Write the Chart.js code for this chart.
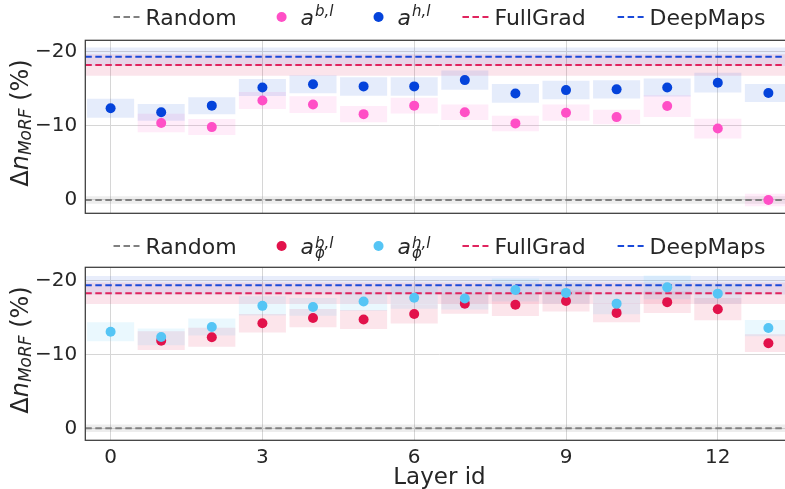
<!DOCTYPE html>
<html lang="en">
<head>
<meta charset="UTF-8">
<title>Layer-wise MoRF drop</title>
<script src="https://cdnjs.cloudflare.com/ajax/libs/Chart.js/4.4.0/chart.umd.min.js"></script>
<style>
    html, body { margin: 0; padding: 0; background: #fff; overflow: hidden; width: 785px; height: 489px; }
    .panel { position: absolute; left: 0; }
</style>
</head>
<body>
<canvas id="topChart" class="panel" width="800" height="225" style="top:0"></canvas>
<canvas id="bottomChart" class="panel" width="800" height="267" style="top:225px"></canvas>
<script>
    const FONT = '"DejaVu Sans", sans-serif';
    const TEXT = '#262626';
    const GRID = '#d6d6d6';

    // x categories and ticks
    const layerIds = [0, 1, 2, 3, 4, 5, 6, 7, 8, 9, 10, 11, 12, 13];
    const xTicks = [0, 3, 6, 9, 12];
    const yTicks = [-20, -10, 0];

    // top panel: a^{b,l} (pink) and a^{h,l} (blue), mean / std per layer
    const abMean = [null, -10.4, -9.85, -13.45, -12.9, -11.6, -12.75, -11.85, -10.35, -11.8, -11.2, -12.7, -9.65, 0];
    const abStd  = [null, 1.25, 1.08, 1.15, 1.13, 1.1, 1.07, 1.05, 1.05, 1.1, 0.98, 1.47, 1.33, 0.85];
    const ahMean = [-12.4, -11.85, -12.75, -15.2, -15.65, -15.35, -15.35, -16.2, -14.4, -14.85, -14.95, -15.2, -15.85, -14.45];
    const ahStd  = [1.28, 1.13, 1.15, 1.15, 1.22, 1.25, 1.25, 1.3, 1.27, 1.25, 1.22, 1.22, 1.33, 1.22];

    // bottom panel: a_phi^{b,l} (crimson) and a_phi^{h,l} (light blue)
    const apbMean = [null, -11.85, -12.3, -14.2, -14.9, -14.7, -15.45, -16.85, -16.7, -17.2, -15.6, -17.05, -16.1, -11.5];
    const apbStd  = [null, 1.28, 1.28, 1.25, 1.23, 1.28, 1.3, 1.38, 1.52, 1.43, 1.28, 1.45, 1.5, 1.2];
    const aphMean = [-13.05, -12.35, -13.7, -16.55, -16.4, -17.15, -17.65, -17.55, -18.7, -18.3, -16.85, -19.05, -18.2, -13.55];
    const aphStd  = [1.28, 1.13, 1.15, 1.3, 1.2, 1.25, 1.5, 1.5, 1.55, 1.45, 1.43, 1.6, 1.38, 1.1];

    // reference methods, same in both panels
    const baseNames = ['Random', 'FullGrad', 'DeepMaps'];
    const baseMean = [0, -18.25, -19.35];
    const baseStd = [0.5, 1.45, 1.25];

    const COL = {
        ab: '#ff4fc6', ah: '#0443db', apb: '#e2124b', aph: '#55c5f5',
        random: '#808080', fullgrad: '#e0245e', deepmaps: '#1a4ad9'
    };

    function rgba(hex, a) {
        const n = parseInt(hex.slice(1), 16);
        return `rgba(${n >> 16},${(n >> 8) & 255},${n & 255},${a})`;
    }

    const X_MIN = -0.5, X_MAX = 13.5;

    function baselineDatasets() {
        const cols = [COL.random, COL.fullgrad, COL.deepmaps];
        const bandAlpha = [0.14, 0.12, 0.1];
        const out = [];
        baseNames.forEach((name, k) => {
            const m = baseMean[k], s = baseStd[k];
            out.push({
                type: 'line', data: [{x: X_MIN, y: m - s}, {x: X_MAX, y: m - s}],
                fill: {value: m + s}, backgroundColor: rgba(cols[k], bandAlpha[k]),
                borderWidth: 0, pointRadius: 0, order: 4
            });
            out.push({
                type: 'line', label: name, data: [{x: X_MIN, y: m}, {x: X_MAX, y: m}],
                borderColor: cols[k], borderWidth: 2, borderDash: [6.5, 3.5],
                pointRadius: 0, fill: false, order: 2
            });
        });
        return out;
    }

    function seriesDatasets(mean, std, color, boxAlpha) {
        const pts = layerIds.filter((_, i) => mean[i] !== null);
        return [
            {
                type: 'bar',
                data: pts.map(x => ({x, y: [mean[x] - std[x], mean[x] + std[x]]})),
                backgroundColor: rgba(color, boxAlpha), borderWidth: 0,
                grouped: false, barPercentage: 0.93, categoryPercentage: 1, order: 3
            },
            {
                type: 'scatter',
                data: pts.map(x => ({x, y: mean[x]})),
                backgroundColor: color, pointRadius: 5, pointBorderWidth: 0, order: 1
            }
        ];
    }

    function scaleConfig(showX, yMin, yMax, xHeight) {
        return {
            x: {
                type: 'linear', min: X_MIN, max: X_MAX, offset: false,
                grid: {color: GRID, lineWidth: 1, drawTicks: false, offset: false},
                border: {display: false},
                afterBuildTicks: s => { s.ticks = xTicks.map(v => ({value: v})); },
                ticks: {display: showX, font: {family: FONT, size: 20}, color: TEXT, padding: 5, maxRotation: 0},
                title: {display: showX, text: 'Layer id', font: {family: FONT, size: 23}, color: TEXT, padding: 0},
                afterFit: s => { s.height = xHeight; s.paddingLeft = s.paddingRight = 0; }
            },
            y: {
                type: 'linear', reverse: true, min: yMin, max: yMax,
                grid: {color: GRID, lineWidth: 1, drawTicks: false},
                border: {display: false},
                afterBuildTicks: s => { s.ticks = yTicks.map(v => ({value: v})); },
                ticks: {
                    font: {family: FONT, size: 20}, color: TEXT, padding: 8,
                    callback: v => v < 0 ? '\u2212' + Math.abs(v) : String(v)
                },
                afterFit: s => { s.width = 85.3; s.paddingTop = s.paddingBottom = 0; }
            }
        };
    }

    // frame around the plot area
    const framePlugin = {
        id: 'frame',
        afterDraw(chart) {
            const {ctx, chartArea: a} = chart;
            ctx.save();
            ctx.strokeStyle = '#3a3a3a';
            ctx.lineWidth = 1.25;
            ctx.strokeRect(a.left, a.top, a.right - a.left, a.bottom - a.top);
            ctx.restore();
        }
    };

    function labelWidth(ctx, lab, size) {
        if (lab.text) {
            ctx.font = `${size}px ${FONT}`;
            return ctx.measureText(lab.text).width;
        }
        ctx.font = `italic ${size}px ${FONT}`;
        const w = ctx.measureText(lab.base).width;
        ctx.font = `italic ${Math.round(size * 0.7)}px ${FONT}`;
        const ws = lab.sup ? ctx.measureText(lab.sup).width : 0;
        const wb = lab.sub ? ctx.measureText(lab.sub).width : 0;
        return w + 1 + Math.max(ws, wb);
    }

    function drawLabel(ctx, lab, x, y, size) {
        ctx.fillStyle = TEXT;
        ctx.textAlign = 'left';
        ctx.textBaseline = 'alphabetic';
        if (lab.text) {
            ctx.font = `${size}px ${FONT}`;
            ctx.fillText(lab.text, x, y);
            return;
        }
        ctx.font = `italic ${size}px ${FONT}`;
        ctx.fillText(lab.base, x, y);
        const w = ctx.measureText(lab.base).width + 1;
        ctx.font = `italic ${Math.round(size * 0.7)}px ${FONT}`;
        if (lab.sup) ctx.fillText(lab.sup, x + w, y - (lab.sub ? 6.5 : 9));
        if (lab.sub) ctx.fillText(lab.sub, x + w, y + 4);
    }

    function legendPlugin(items, baseline) {
        return {
            id: 'mathLegend',
            afterDraw(chart) {
                const ctx = chart.ctx, a = chart.chartArea;
                const HANDLE = 26, PAD = 6, GAP = 32, SIZE = 22;
                ctx.save();
                const widths = items.map(it => labelWidth(ctx, it.label, SIZE));
                const total = widths.reduce((s, w) => s + w, 0) + items.length * (HANDLE + PAD) + (items.length - 1) * GAP;
                let x = (a.left + a.right) / 2 - total / 2;
                const my = baseline - 8;
                items.forEach((it, k) => {
                    if (it.kind === 'line') {
                        ctx.strokeStyle = it.color;
                        ctx.lineWidth = 2;
                        ctx.setLineDash([6.5, 3.5]);
                        ctx.beginPath();
                        ctx.moveTo(x, my);
                        ctx.lineTo(x + HANDLE, my);
                        ctx.stroke();
                        ctx.setLineDash([]);
                    } else {
                        ctx.fillStyle = it.color;
                        ctx.beginPath();
                        ctx.arc(x + HANDLE / 2, my, 5, 0, Math.PI * 2);
                        ctx.fill();
                    }
                    x += HANDLE + PAD;
                    drawLabel(ctx, it.label, x, baseline, SIZE);
                    x += widths[k] + GAP;
                });
                ctx.restore();
            }
        };
    }

    // rotated y title: Δn_{MoRF} (%)
    function yTitlePlugin(bx, cy) {
        return {
            id: 'yTitle',
            afterDraw(chart) {
                const ctx = chart.ctx;
                const big = 24, small = 17;
                const segs = [
                    {t: '\u0394', f: `${big}px ${FONT}`, dy: 0},
                    {t: 'n', f: `italic ${big}px ${FONT}`, dy: 0},
                    {t: 'MoRF', f: `italic ${small}px ${FONT}`, dy: 3},
                    {t: ' (%)', f: `${big}px ${FONT}`, dy: 0}
                ];
                ctx.save();
                let total = 0;
                segs.forEach(s => { ctx.font = s.f; s.w = ctx.measureText(s.t).width; total += s.w; });
                ctx.translate(bx, cy);
                ctx.rotate(-Math.PI / 2);
                ctx.fillStyle = TEXT;
                ctx.textAlign = 'left';
                ctx.textBaseline = 'alphabetic';
                let x = -total / 2;
                segs.forEach(s => { ctx.font = s.f; ctx.fillText(s.t, x, s.dy); x += s.w; });
                ctx.restore();
            }
        };
    }

    function makeChart(id, series, legendItems, opts) {
        return new Chart(document.getElementById(id), {
            type: 'scatter',
            data: {datasets: [...baselineDatasets(), ...series]},
            options: {
                responsive: false,
                animation: false,
                events: [],
                layout: {padding: {top: opts.padTop, bottom: opts.padBottom, left: 0, right: 6.3}},
                scales: scaleConfig(opts.showX, opts.yMin, opts.yMax, opts.xHeight),
                plugins: {legend: {display: false}, tooltip: {enabled: false}}
            },
            plugins: [framePlugin, legendPlugin(legendItems, opts.legendBase), yTitlePlugin(27.5, opts.titleY)]
        });
    }

    makeChart('topChart',
        [...seriesDatasets(ahMean, ahStd, COL.ah, 0.1), ...seriesDatasets(abMean, abStd, COL.ab, 0.11)],
        [
            {kind: 'line', color: COL.random, label: {text: 'Random'}},
            {kind: 'dot', color: COL.ab, label: {base: 'a', sup: 'b,l'}},
            {kind: 'dot', color: COL.ah, label: {base: 'a', sup: 'h,l'}},
            {kind: 'line', color: COL.fullgrad, label: {text: 'FullGrad'}},
            {kind: 'line', color: COL.deepmaps, label: {text: 'DeepMaps'}}
        ],
        {padTop: 40.3, padBottom: 11.7, showX: false, xHeight: 0, yMin: -21.58, yMax: 1.8, legendBase: 25, titleY: 123}
    );

    makeChart('bottomChart',
        [...seriesDatasets(aphMean, aphStd, COL.aph, 0.12), ...seriesDatasets(apbMean, apbStd, COL.apb, 0.11)],
        [
            {kind: 'line', color: COL.random, label: {text: 'Random'}},
            {kind: 'dot', color: COL.apb, label: {base: 'a', sup: 'b,l', sub: '\u03D5'}},
            {kind: 'dot', color: COL.aph, label: {base: 'a', sup: 'h,l', sub: '\u03D5'}},
            {kind: 'line', color: COL.fullgrad, label: {text: 'FullGrad'}},
            {kind: 'line', color: COL.deepmaps, label: {text: 'DeepMaps'}}
        ],
        {padTop: 42.3, padBottom: 0, showX: true, xHeight: 51.7, yMin: -21.76, yMax: 1.62, legendBase: 29, titleY: 125}
    );
</script>
</body>
</html>
